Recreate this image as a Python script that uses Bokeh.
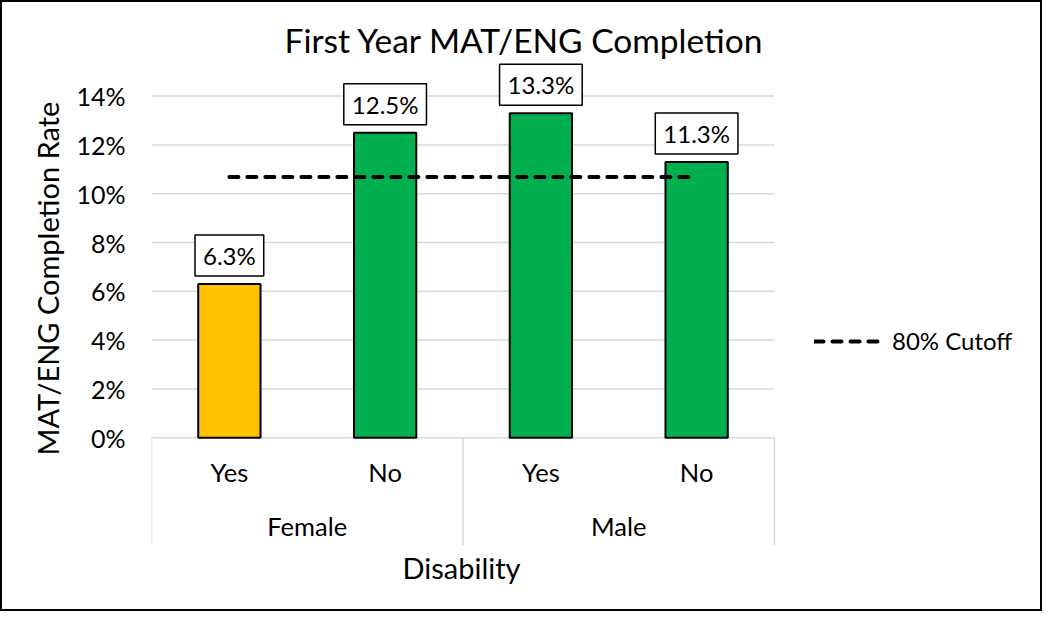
from bokeh.plotting import figure
from bokeh.models import Range1d, FixedTicker, Legend, LegendItem, Title
from bokeh.core.properties import value
from bokeh.embed import file_html
from bokeh.resources import INLINE

# ---------------- data ----------------
title_text = "First Year MAT/ENG Completion"
y_title = "MAT/ENG Completion Rate"
x_title = "Disability"
genders = ["Female", "Female", "Male", "Male"]
disability = ["Yes", "No", "Yes", "No"]
rates = [6.3, 12.5, 13.3, 11.3]
bar_colors = ["#FFC000", "#00B050", "#00B050", "#00B050"]
cutoff = 10.68
cutoff_label = "80% Cutoff"
y_ticks = [0, 2, 4, 6, 8, 10, 12, 14]
y_tick_labels = ["0%", "2%", "4%", "6%", "8%", "10%", "12%", "14%"]

FONT = "Lato"
GRID = "#D9D9D9"

n = len(rates)
xs = [i + 0.5 for i in range(n)]
bar_labels = [f"{r:.1f}%" for r in rates]

# group positions / boundaries
groups = []
for g in genders:
    if g not in groups:
        groups.append(g)
group_x = [sum(xs[i] for i in range(n) if genders[i] == g) / genders.count(g) for g in groups]
bounds = [0]
for g in groups:
    bounds.append(bounds[-1] + genders.count(g))

# layout: categories occupy CAT_W px of a wider frame (legend sits inside it)
CAT_W = 623
FRAME_W = 879
FRAME_H = 488
x_end = n * FRAME_W / CAT_W

p = figure(frame_width=FRAME_W, frame_height=FRAME_H, output_backend="svg",
           toolbar_location=None, x_axis_location=None,
           x_range=Range1d(0, x_end), y_range=Range1d(-4.5, 15.5),
           min_border_left=149, min_border_right=10, min_border_top=57,
           min_border_bottom=62)
p.styles = {"border": "2px solid black"}
p.outline_line_color = None
p.background_fill_color = "white"
p.border_fill_color = "white"
p.xgrid.visible = False
p.ygrid.visible = False

# title
p.title.text = title_text
p.title.text_font = FONT
p.title.text_font_size = "33.5px"
p.title.text_font_style = "normal"
p.title.text_color = "black"
p.title.align = "left"
p.title.offset = 133
p.title.standoff = 0

# y axis
p.yaxis.ticker = FixedTicker(ticks=y_ticks)
p.yaxis.major_label_overrides = {t: l for t, l in zip(y_ticks, y_tick_labels)}
p.yaxis.axis_line_color = None
p.yaxis.major_tick_line_color = None
p.yaxis.minor_tick_line_color = None
p.yaxis.major_tick_out = 0
p.yaxis.major_label_standoff = 26
p.yaxis.major_label_text_font = FONT
p.yaxis.major_label_text_font_size = "25px"
p.yaxis.major_label_text_color = "black"

# y axis title (left side panel, next to the axis)
p.add_layout(Title(text=y_title, align="left", offset=92, standoff=17,
                   text_font=FONT, text_font_size="29px",
                   text_font_style="normal", text_color="black"), "left")

# x axis title (below the category labels)
p.add_layout(Title(text=x_title, align="left", offset=251, standoff=4,
                   vertical_align="top",
                   text_font=FONT, text_font_size="29px",
                   text_font_style="normal", text_color="black"), "below")

# horizontal gridlines over the category area
p.segment(x0=[0] * len(y_ticks), y0=y_ticks, x1=[n] * len(y_ticks), y1=y_ticks,
          line_color=GRID, line_width=1.5)

# category separators
p.segment(x0=bounds, y0=[0] * len(bounds), x1=bounds, y1=[-4.4] * len(bounds),
          line_color=GRID, line_width=1.5)

# bars
p.vbar(x=xs, top=rates, bottom=0, width=0.4, fill_color=bar_colors,
       line_color="black", line_width=2)

# category labels
p.text(x=xs, y=[-1.42] * n, text=disability, text_align="center",
       text_baseline="middle", text_font=value(FONT), text_font_size="25.5px",
       text_color="black")
p.text(x=group_x, y=[-3.63] * len(groups), text=groups, text_align="center",
       text_baseline="middle", text_font=value(FONT), text_font_size="25.5px",
       text_color="black")

# data labels
p.text(x=xs, y=rates, text=bar_labels, anchor="bottom_center", y_offset=-8,
       text_font=value(FONT), text_font_size="24px", text_color="black",
       background_fill_color="white", border_line_color="black",
       border_line_width=1.5, padding=dict(left=8, right=8, top=6, bottom=6))

# cutoff line
cut = p.line(x=[xs[0], xs[-1]], y=[cutoff, cutoff], line_color="black",
             line_width=4, line_dash="9 9", line_cap="round")

legend = Legend(items=[LegendItem(label=cutoff_label, renderers=[cut])],
                location=(663, 192), glyph_width=70, glyph_height=20,
                label_standoff=8, label_text_font=FONT,
                label_text_font_size="24px", label_text_color="black",
                border_line_color=None, background_fill_alpha=0,
                padding=0, margin=0, spacing=0)
p.add_layout(legend, "center")

open("out.html", "w").write(file_html(p, INLINE))
